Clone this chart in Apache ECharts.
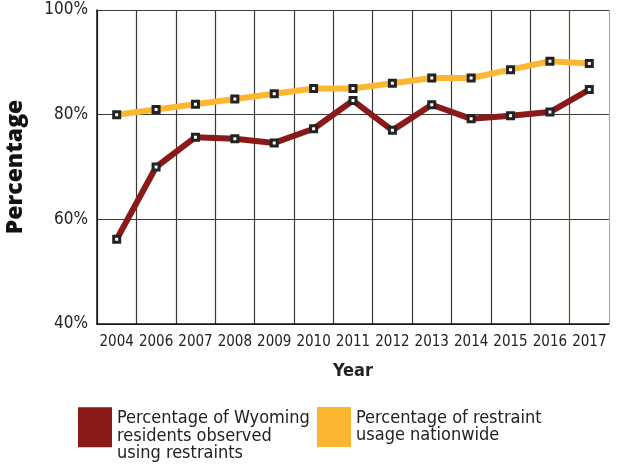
<!DOCTYPE html>
<html>
<head>
<meta charset="utf-8">
<script src="https://cdn.jsdelivr.net/npm/echarts@6/dist/echarts.min.js"></script>
<style>html,body{margin:0;padding:0;background:#fff;}#chart{width:619px;height:468px;}</style>
</head>
<body>
<div id="chart"></div>
<script>
const years = ['2004','2006','2007','2008','2009','2010','2011','2012','2013','2014','2015','2016','2017'];
const wyoming = [56.2, 70.0, 75.7, 75.4, 74.6, 77.3, 82.7, 77.0, 81.9, 79.2, 79.8, 80.5, 84.8];
const nationwide = [80.0, 81.0, 82.0, 83.0, 84.0, 85.0, 85.0, 86.0, 87.0, 87.0, 88.6, 90.2, 89.8];
const yTicks = [40, 60, 80, 100];
const wyName = 'Percentage of Wyoming\nresidents observed\nusing restraints';
const natName = 'Percentage of restraint\nusage nationwide';
const RED = '#8a1a19';
const YELLOW = '#fbb731';

const FONT = '"Liberation Sans Narrow", "DejaVu Sans Condensed", "Open Sans", sans-serif';
const chart = echarts.init(document.getElementById('chart'));
const gridColors = [];
for (let i = 0; i < 12; i++) gridColors.push('#3a3a3a');
gridColors.push('#7a4a10');
gridColors.push('#c8a878');

const legendText = { fontFamily: FONT, fontSize: 18, color: '#222', lineHeight: 17.5 };

chart.setOption({
  animation: false,
  backgroundColor: '#fff',
  grid: { left: 97, right: 10, top: 10, bottom: 144, containLabel: false, outerBoundsMode: 'none' },
  legend: [
    { data: [{ name: wyName, itemStyle: { color: RED, borderWidth: 0 } }], left: 73, top: 387, orient: 'vertical',
      itemWidth: 34, itemHeight: 40, itemGap: 0, icon: 'rect', selectedMode: false,
      formatter: function (n) { return '\n' + n; }, textStyle: legendText },
    { data: [{ name: natName, itemStyle: { color: YELLOW, borderWidth: 0 } }], left: 312, top: 402, orient: 'vertical',
      itemWidth: 34, itemHeight: 40, itemGap: 0, icon: 'rect', selectedMode: false, textStyle: legendText }
  ],
  xAxis: {
    type: 'category',
    data: years,
    boundaryGap: true,
    name: 'Year',
    nameLocation: 'middle',
    nameGap: 38,
    nameTextStyle: { fontFamily: FONT, fontSize: 18, fontWeight: 'bold', color: '#222' },
    axisLine: { show: true, lineStyle: { color: '#111', width: 1.5 } },
    axisTick: { show: false, interval: 0 },
    axisLabel: { interval: 0, fontFamily: FONT, fontSize: 15, color: '#222', margin: 11 },
    splitLine: { show: true, interval: 0, lineStyle: { color: gridColors, width: 1.2 } }
  },
  yAxis: {
    type: 'value',
    min: 40, max: 100, interval: 20,
    name: 'Percentage',
    nameLocation: 'middle',
    nameGap: 70,
    nameRotate: 90,
    nameTextStyle: { fontFamily: '"Open Sans", "DejaVu Sans", sans-serif', fontSize: 23, fontWeight: 900, color: '#111' },
    axisLine: { show: true, lineStyle: { color: '#111', width: 1.5 } },
    axisTick: { show: false },
    axisLabel: { fontFamily: FONT, fontSize: 17, color: '#222', margin: 9,
      formatter: function (v) { return yTicks.indexOf(v) >= 0 ? v + '%' : ''; } },
    splitLine: { show: true, lineStyle: { color: '#3a3a3a', width: 1.2 } }
  },
  series: [
    { name: wyName, type: 'line', data: wyoming, color: RED,
      lineStyle: { width: 6, color: RED },
      symbol: 'rect', symbolSize: 6,
      itemStyle: { color: '#fff', borderColor: '#222', borderWidth: 3 },
      z: 3 },
    { name: natName, type: 'line', data: nationwide, color: YELLOW,
      lineStyle: { width: 6, color: YELLOW },
      symbol: 'rect', symbolSize: 6,
      itemStyle: { color: '#fff', borderColor: '#222', borderWidth: 3 },
      z: 2 }
  ]
});
</script>
</body>
</html>
